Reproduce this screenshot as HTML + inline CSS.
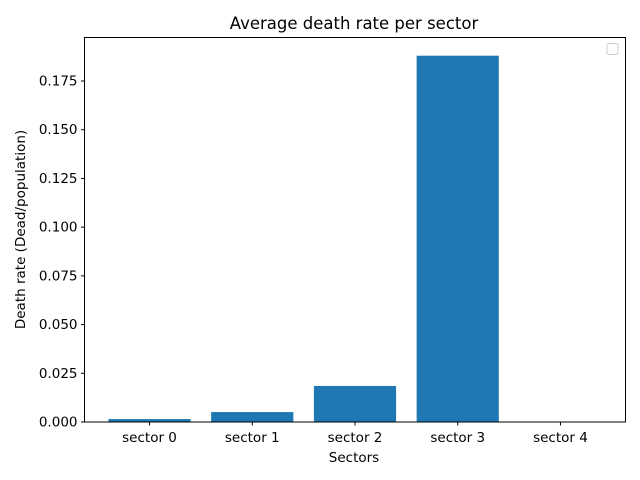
<!DOCTYPE html>
<html><head><meta charset="utf-8"><style>
html,body{margin:0;padding:0;background:#fff;}
svg{display:block;font-family:"DejaVu Sans","Liberation Sans",sans-serif;}
</style></head><body>
<svg id="chart" width="640" height="480" viewBox="0 0 640 480">
<rect x="0" y="0" width="640" height="480" fill="#fff"/>
<text x="354" y="29" font-size="16.5" text-anchor="middle" fill="#000">Average death rate per sector</text>
<g id="bars"></g>
<g id="yticks"></g>
<g id="xticks"></g>
<rect x="84.5" y="37.5" width="541" height="384.5" fill="none" stroke="#000" stroke-width="1"/>
<rect x="607" y="43.5" width="11" height="11" rx="2" fill="#fff" stroke="#ccc" stroke-width="1"/>
<text x="354" y="462" font-size="13.5" text-anchor="middle">Sectors</text>
<text transform="translate(25,229.5) rotate(-90)" font-size="13.5" text-anchor="middle">Death rate (Dead/population)</text>
</svg>
<script>
const categories = ["sector 0","sector 1","sector 2","sector 3","sector 4"];
const values = [0.0015, 0.0051, 0.0185, 0.188, 0.0];
const yTicks = [0, 0.025, 0.05, 0.075, 0.1, 0.125, 0.15, 0.175];
const yTickLabels = ["0.000","0.025","0.050","0.075","0.100","0.125","0.150","0.175"];

const NS = "http://www.w3.org/2000/svg";
const plotL = 84.5, plotR = 625.5, plotB = 422;
const xMin = -0.633, xMax = categories.length - 1 + 0.633;
const pxPerUnit = 48.71 / 0.025;
function xScale(i){ return plotL + (i - xMin) / (xMax - xMin) * (plotR - plotL); }
function yScale(v){ return plotB - v * pxPerUnit; }
const unit = xScale(1) - xScale(0);

const bars = document.getElementById('bars');
values.forEach((v, i) => {
  const r = document.createElementNS(NS, 'rect');
  const cx = xScale(i);
  r.setAttribute('x', cx - 0.4 * unit);
  r.setAttribute('width', 0.8 * unit);
  r.setAttribute('y', yScale(v));
  r.setAttribute('height', plotB - yScale(v));
  r.setAttribute('fill', '#1f77b4');
  
  
  bars.appendChild(r);
});

const yt = document.getElementById('yticks');
yTicks.forEach((t, i) => {
  const y = yScale(t);
  const l = document.createElementNS(NS, 'line');
  l.setAttribute('x1', plotL - 3.5); l.setAttribute('x2', plotL);
  l.setAttribute('y1', y); l.setAttribute('y2', y);
  l.setAttribute('stroke', '#000');
  
  
  yt.appendChild(l);
  const tx = document.createElementNS(NS, 'text');
  tx.setAttribute('x', plotL - 7); tx.setAttribute('y', y + 4.5);
  tx.setAttribute('font-size', '13.5'); tx.setAttribute('text-anchor', 'end');
  tx.textContent = yTickLabels[i];
  
  
  yt.appendChild(tx);
});

const xt = document.getElementById('xticks');
categories.forEach((c, i) => {
  const x = xScale(i);
  const l = document.createElementNS(NS, 'line');
  l.setAttribute('x1', x); l.setAttribute('x2', x);
  l.setAttribute('y1', plotB); l.setAttribute('y2', plotB + 3.5);
  l.setAttribute('stroke', '#000');
  
  
  xt.appendChild(l);
  const tx = document.createElementNS(NS, 'text');
  tx.setAttribute('x', x); tx.setAttribute('y', plotB + 20);
  tx.setAttribute('font-size', '13.5'); tx.setAttribute('text-anchor', 'middle');
  tx.textContent = c;
  
  
  xt.appendChild(tx);
});
</script>
</body></html>
